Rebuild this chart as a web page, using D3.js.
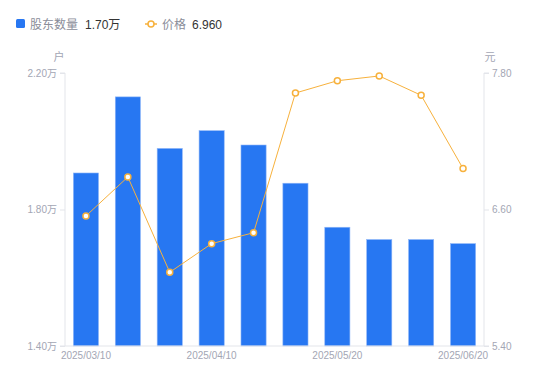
<!DOCTYPE html>
<html><head><meta charset="utf-8">
<script src="https://cdn.jsdelivr.net/npm/d3@7"></script>
<style>body{margin:0;background:#fff;}svg{display:block;font-family:"Liberation Sans","Noto Sans CJK SC",sans-serif;}</style>
</head><body><svg id="c" width="550" height="381"></svg>
<script>
const categories = ["2025/03/10","2025/03/20","2025/03/31","2025/04/10","2025/04/18","2025/04/30","2025/05/20","2025/05/30","2025/06/10","2025/06/20"];
const holders = [1.907,2.130,1.979,2.031,1.989,1.877,1.748,1.712,1.712,1.700];
const prices = [6.543,6.886,6.048,6.300,6.396,7.624,7.732,7.774,7.604,6.960];
const leftTicks = [1.40,1.80,2.20];
const rightTicks = [5.40,6.60,7.80];
const xLabelIdx = [0,3,6,9];

const FONT='"Liberation Sans","Noto Sans CJK SC",sans-serif';
const svg = d3.select("#c");
const L=65,R=484,T=73,B=346;
const x = d3.scaleBand().domain(categories).range([L,R]).paddingInner(0.4).paddingOuter(0.2);
const yL = d3.scaleLinear().domain([1.40,2.20]).range([B,T]);
const yR = d3.scaleLinear().domain([5.40,7.80]).range([B,T]);
const axisCol="#e3e5ea", txtCol="#a3a6b4";

// bars
svg.append("g").selectAll("rect").data(holders).join("rect")
  .attr("x",(d,i)=>x(categories[i])).attr("width",x.bandwidth())
  .attr("y",d=>yL(d)).attr("height",d=>B-yL(d))
  .attr("fill","#2777f2").attr("stroke","#8fb6f8").attr("stroke-width",0.6);

// axes
const gl = svg.append("g").attr("transform",`translate(${L},0)`)
  .call(d3.axisLeft(yL).tickValues(leftTicks).tickSize(5).tickPadding(3).tickFormat(d=>d.toFixed(2)+"万"));
const gr = svg.append("g").attr("transform",`translate(${R},0)`)
  .call(d3.axisRight(yR).tickValues(rightTicks).tickSize(5).tickPadding(3).tickFormat(d=>d.toFixed(2)));
const gb = svg.append("g").attr("transform",`translate(0,${B})`)
  .call(d3.axisBottom(x).tickValues(xLabelIdx.map(i=>categories[i])).tickSize(0).tickPadding(6));
[gl,gr,gb].forEach(g=>{
  g.selectAll(".domain").attr("stroke",axisCol);
  g.selectAll(".tick line").attr("stroke",axisCol);
  g.selectAll("text").attr("fill",txtCol).style("font-size","10px").style("font-family",FONT);
});
gl.select(".domain").attr("d",`M-5,${T}H0V${B}H-5`);
gr.select(".domain").attr("d",`M5,${T}H0V${B}H5`);
gb.select(".domain").attr("d",`M${L},0H${R}`);

// units
svg.append("text").attr("x",59).attr("y",61).attr("text-anchor","middle").attr("fill",txtCol).style("font-size","11px").text("户");
svg.append("text").attr("x",490).attr("y",61).attr("text-anchor","middle").attr("fill",txtCol).style("font-size","11px").text("元");

// line
const cx=(i)=>x(categories[i])+x.bandwidth()/2;
svg.append("path").datum(prices)
  .attr("d",d3.line().x((d,i)=>cx(i)).y(d=>yR(d)))
  .attr("fill","none").attr("stroke","#f7b13c").attr("stroke-width",1);
svg.append("g").selectAll("circle").data(prices).join("circle")
  .attr("cx",(d,i)=>cx(i)).attr("cy",d=>yR(d)).attr("r",3)
  .attr("fill","#fff").attr("stroke","#f7b13c").attr("stroke-width",1.5);

// legend
const lg = svg.append("g");
lg.append("rect").attr("x",16).attr("y",19).attr("width",9).attr("height",9).attr("rx",1.5).attr("fill","#2777f2");
lg.append("text").attr("x",30).attr("y",28.5).attr("fill","#8a8d99").style("font-size","12px").text("股东数量");
lg.append("text").attr("x",85).attr("y",28.5).attr("fill","#333").style("font-size","12px").text("1.70万");
lg.append("line").attr("x1",145).attr("x2",157).attr("y1",24).attr("y2",24).attr("stroke","#f7b13c").attr("stroke-width",1.5);
lg.append("circle").attr("cx",151).attr("cy",24).attr("r",3).attr("fill","#fff").attr("stroke","#f7b13c").attr("stroke-width",1.5);
lg.append("text").attr("x",162).attr("y",28.5).attr("fill","#8a8d99").style("font-size","12px").text("价格");
lg.append("text").attr("x",192).attr("y",28.5).attr("fill","#333").style("font-size","12px").text("6.960");
</script></body></html>
